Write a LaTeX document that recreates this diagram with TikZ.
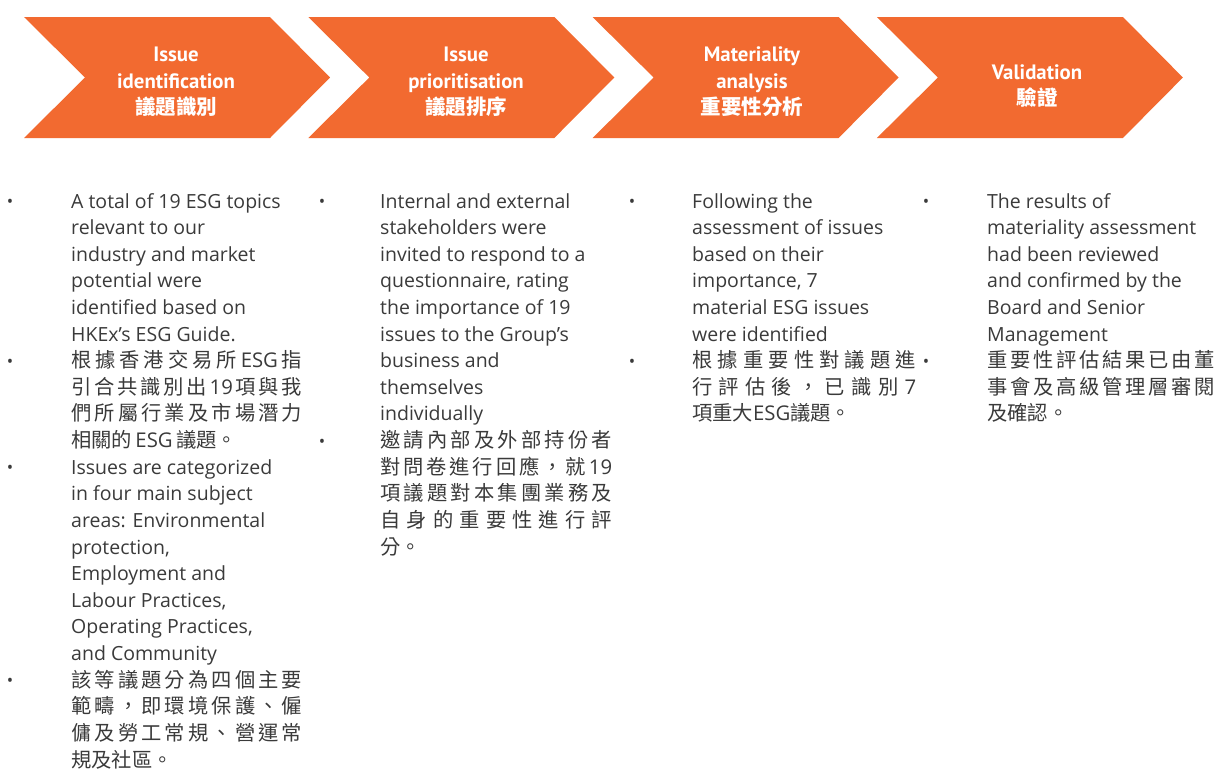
\documentclass[tikz,border=0pt]{standalone}
\usepackage{fontspec}
\setmainfont{Open Sans}
\newfontfamily\latf{Open Sans}
\newfontfamily\titlef{PT Sans}
\newfontfamily\cjk{Noto Sans CJK TC}
\definecolor{esgorange}{RGB}{242,106,48}
\definecolor{bodygray}{RGB}{58,58,58}
\makeatletter
\newcommand\spreadlist[1]{\let\sp@sep\relax\@tfor\sp@item:=#1\do{\sp@sep\sp@item\def\sp@sep{\hfil}}}
\makeatother
\newcommand\ESG{{\latf ESG}}
\newcommand\nineteen{{\latf 19}}
\newcommand\seven{{\latf 7}}
\newcommand\bl[1]{208+26.62*#1}
\newcommand\jfull[4]{\node[cjkline] (#1) at #2 {\makebox[#3][s]{\spreadlist{#4}}};}
\tikzset{
  enline/.style={anchor=base west, inner sep=0pt, text=bodygray, font=\latf\fontsize{19.5}{19.5}\selectfont},
  cjkline/.style={anchor=base west, inner sep=0pt, text=bodygray, font=\cjk\fontsize{20.3}{20.3}\selectfont},
  bul/.style={inner sep=0pt, text=bodygray, font=\latf\fontsize{17}{17}\selectfont},
  chev/.style={fill=esgorange, draw=none},
  ttl/.style={anchor=base, inner sep=0pt, text=white, font=\titlef\bfseries\fontsize{20.8}{20.8}\selectfont},
  ttlc/.style={anchor=base, inner sep=0pt, text=white, font=\cjk\bfseries\fontsize{20.5}{20.5}\selectfont},
}
\begin{document}
\begin{tikzpicture}[x=1pt,y=-1pt]
\useasboundingbox (0,0) rectangle (1221,769);
% chevrons
\foreach \k in {0,1,2,3}{
  \pgfmathsetmacro{\dx}{284.3*\k}
  \fill[chev] (24+\dx,17) -- (270+\dx,17) -- (330+\dx,77.5) -- (270+\dx,138) -- (24+\dx,138) -- (85+\dx,77.5) -- cycle;
}
% titles
\node[ttl] (t1a) at (176,61.7) {Issue};
\node[ttl] (t1b) at (176,88) {identification};
\node[ttlc] (t1c) at (176,114) {議題識別};
\node[ttl] (t2a) at (466,61.7) {Issue};
\node[ttl] (t2b) at (466,88) {prioritisation};
\node[ttlc] (t2c) at (466,114) {議題排序};
\node[ttl] (t3a) at (752,61.7) {Materiality};
\node[ttl] (t3b) at (752,88) {analysis};
\node[ttlc] (t3c) at (752,114) {重要性分析};
\node[ttl] (t4a) at (1037,79) {Validation};
\node[ttlc] (t4b) at (1037,105) {驗證};
% column 1
\node[bul] (b1a) at (10,\bl{0}-4.5) {•};
\node[bul] (b1b) at (10,\bl{6}-4.5) {•};
\node[bul] (b1c) at (10,\bl{10}-4.5) {•};
\node[bul] (b1d) at (10,\bl{18}-4.5) {•};
\node[enline] (c1l0) at (71,\bl{0}) {A total of 19 ESG topics};
\node[enline] (c1l1) at (71,\bl{1}) {relevant to our};
\node[enline] (c1l2) at (71,\bl{2}) {industry and market};
\node[enline] (c1l3) at (71,\bl{3}) {potential were};
\node[enline] (c1l4) at (71,\bl{4}) {identified based on};
\node[enline] (c1l5) at (71,\bl{5}) {HKEx’s ESG Guide.};
\jfull{c1l6}{(71,\bl{6})}{231pt}{根據香港交易所\ESG 指}
\jfull{c1l7}{(71,\bl{7})}{231pt}{引合共識別出\nineteen 項與我}
\jfull{c1l8}{(71,\bl{8})}{231pt}{們所屬行業及市場潛力}
\node[cjkline] (c1l9) at (71,\bl{9}) {相關的\,\ESG\,議題。};
\node[enline] (c1l10) at (71,\bl{10}) {Issues are categorized};
\node[enline] (c1l11) at (71,\bl{11}) {in four main subject};
\node[enline] (c1l12) at (71,\bl{12}) {areas: Environmental};
\node[enline] (c1l13) at (71,\bl{13}) {protection,};
\node[enline] (c1l14) at (71,\bl{14}) {Employment and};
\node[enline] (c1l15) at (71,\bl{15}) {Labour Practices,};
\node[enline] (c1l16) at (71,\bl{16}) {Operating Practices,};
\node[enline] (c1l17) at (71,\bl{17}) {and Community};
\jfull{c1l18}{(71,\bl{18})}{231pt}{該等議題分為四個主要}
\jfull{c1l19}{(71,\bl{19})}{231pt}{範疇，即環境保護、僱}
\jfull{c1l20}{(71,\bl{20})}{231pt}{傭及勞工常規、營運常}
\node[cjkline] (c1l21) at (71,\bl{21}) {規及社區。};
% column 2
\node[bul] (b2a) at (322,\bl{0}-4.5) {•};
\node[bul] (b2b) at (322,\bl{9}-4.5) {•};
\node[enline] (c2l0) at (380,\bl{0}) {Internal and external};
\node[enline] (c2l1) at (380,\bl{1}) {stakeholders were};
\node[enline] (c2l2) at (380,\bl{2}) {invited to respond to a};
\node[enline] (c2l3) at (380,\bl{3}) {questionnaire, rating};
\node[enline] (c2l4) at (380,\bl{4}) {the importance of 19};
\node[enline] (c2l5) at (380,\bl{5}) {issues to the Group’s};
\node[enline] (c2l6) at (380,\bl{6}) {business and};
\node[enline] (c2l7) at (380,\bl{7}) {themselves};
\node[enline] (c2l8) at (380,\bl{8}) {individually};
\jfull{c2l9}{(380,\bl{9})}{232pt}{邀請內部及外部持份者}
\jfull{c2l10}{(380,\bl{10})}{232pt}{對問卷進行回應，就\nineteen}
\jfull{c2l11}{(380,\bl{11})}{232pt}{項議題對本集團業務及}
\jfull{c2l12}{(380,\bl{12})}{232pt}{自身的重要性進行評}
\node[cjkline] (c2l13) at (380,\bl{13}) {分。};
% column 3
\node[bul] (b3a) at (632,\bl{0}-4.5) {•};
\node[bul] (b3b) at (632,\bl{6}-4.5) {•};
\node[enline] (c3l0) at (692,\bl{0}) {Following the};
\node[enline] (c3l1) at (692,\bl{1}) {assessment of issues};
\node[enline] (c3l2) at (692,\bl{2}) {based on their};
\node[enline] (c3l3) at (692,\bl{3}) {importance, 7};
\node[enline] (c3l4) at (692,\bl{4}) {material ESG issues};
\node[enline] (c3l5) at (692,\bl{5}) {were identified};
\jfull{c3l6}{(692,\bl{6})}{224pt}{根據重要性對議題進}
\jfull{c3l7}{(692,\bl{7})}{224pt}{行評估後，已識別\seven}
\node[cjkline] (c3l8) at (692,\bl{8}) {項重大\ESG 議題。};
% column 4
\node[bul] (b4a) at (926,\bl{0}-4.5) {•};
\node[bul] (b4b) at (926,\bl{6}-4.5) {•};
\node[enline] (c4l0) at (987,\bl{0}) {The results of};
\node[enline] (c4l1) at (987,\bl{1}) {materiality assessment};
\node[enline] (c4l2) at (987,\bl{2}) {had been reviewed};
\node[enline] (c4l3) at (987,\bl{3}) {and confirmed by the};
\node[enline] (c4l4) at (987,\bl{4}) {Board and Senior};
\node[enline] (c4l5) at (987,\bl{5}) {Management};
\jfull{c4l6}{(987,\bl{6})}{228pt}{重要性評估結果已由董}
\jfull{c4l7}{(987,\bl{7})}{228pt}{事會及高級管理層審閱}
\node[cjkline] (c4l8) at (987,\bl{8}) {及確認。};
\end{tikzpicture}
\end{document}
